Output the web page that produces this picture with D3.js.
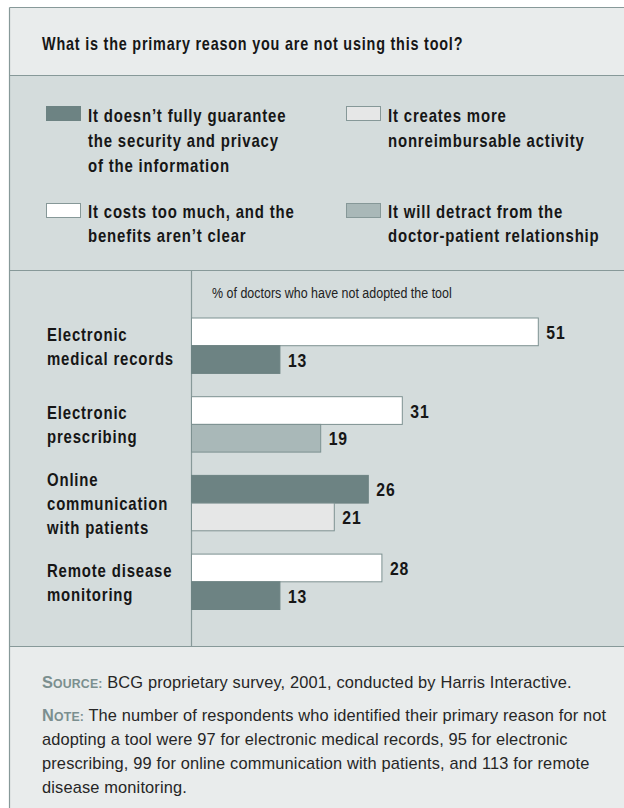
<!DOCTYPE html>
<html>
<head>
<meta charset="utf-8">
<script src="https://cdn.jsdelivr.net/npm/d3@7"></script>
<style>
  html, body { margin: 0; padding: 0; background: #ffffff; }
  svg { display: block; }
  .head { font-family: "Liberation Sans", Arial, sans-serif; font-weight: bold; fill: #161616; letter-spacing: 1px; }
  .plain { font-family: "Liberation Sans", Arial, sans-serif; fill: #222; }
  .foot { font-family: "Liberation Sans", Arial, sans-serif; fill: #262626; font-size: 16.4px; letter-spacing: 0.15px; }
  .lead { fill: #7b8f8f; font-weight: bold; }
</style>
</head>
<body>
<svg id="chart" width="624" height="808"></svg>
<script>
// Survey question
const question = "What is the primary reason you are not using this tool?";

// Reasons (legend order) and their text lines
const reasonKeys = ["security", "nonreimbursable", "cost", "detract"];
const reasonLines = [
  ["It doesn\u2019t fully guarantee", "the security and privacy", "of the information"],
  ["It creates more", "nonreimbursable activity"],
  ["It costs too much, and the", "benefits aren\u2019t clear"],
  ["It will detract from the", "doctor-patient relationship"]
];
const reasonColors = ["#6d8383", "#e6e7e7", "#ffffff", "#a9b8b8"];

// Tools surveyed
const categories = ["Electronic medical records", "Electronic prescribing", "Online communication with patients", "Remote disease monitoring"];
const categoryLines = [
  ["Electronic", "medical records"],
  ["Electronic", "prescribing"],
  ["Online", "communication", "with patients"],
  ["Remote disease", "monitoring"]
];

// Top two reasons per tool (% of doctors who have not adopted the tool)
const firstReason = ["cost", "cost", "security", "cost"];
const firstValue = [51, 31, 26, 28];
const secondReason = ["security", "detract", "nonreimbursable", "security"];
const secondValue = [13, 19, 21, 13];

const axisLabel = "% of doctors who have not adopted the tool";

const sourceText = "BCG proprietary survey, 2001, conducted by Harris Interactive.";
const noteLines = [
  "The number of respondents who identified their primary reason for not",
  "adopting a tool were 97 for electronic medical records, 95 for electronic",
  "prescribing, 99 for online communication with patients, and 113 for remote",
  "disease monitoring."
];

const svg = d3.select("#chart");
const W = 624, H = 808;
const boxLeft = 9.5, boxTop = 7.5;
const legendTop = 75.5, chartTop = 270.5, footTop = 646.5;
const lineCol = "#879999";
const lightBg = "#e9ecec", midBg = "#d4dcdc";
const squeeze = 0.83; // horizontal compression for the condensed headline face

// Condensed text block: lines stacked from a first baseline
function condText(parent, cls, x, y, lines, lineH, size, sx) {
  const t = parent.append("text").attr("class", cls)
    .attr("transform", `translate(${x},${y}) scale(${sx},1)`)
    .attr("font-size", size);
  lines.forEach((ln, j) => {
    t.append("tspan").attr("x", 0).attr("y", j * lineH).text(ln);
  });
  return t;
}

// Panels
svg.append("rect").attr("x", boxLeft).attr("y", boxTop).attr("width", W).attr("height", legendTop - boxTop).attr("fill", lightBg);
svg.append("rect").attr("x", boxLeft).attr("y", legendTop).attr("width", W).attr("height", footTop - legendTop).attr("fill", midBg);
svg.append("rect").attr("x", boxLeft).attr("y", footTop).attr("width", W).attr("height", H - footTop + 10).attr("fill", lightBg);

// Frame and dividers
const frame = svg.append("g").attr("stroke", lineCol).attr("stroke-width", 1.2).attr("fill", "none");
frame.append("line").attr("x1", boxLeft).attr("x2", W).attr("y1", boxTop).attr("y2", boxTop);
frame.append("line").attr("x1", boxLeft).attr("x2", boxLeft).attr("y1", boxTop).attr("y2", H);
[legendTop, chartTop, footTop].forEach(y => {
  frame.append("line").attr("x1", boxLeft).attr("x2", W).attr("y1", y).attr("y2", y);
});

// Title
condText(svg, "head", 42, 49.5, [question], 0, 18, 0.8);

// Legend
const legendX = [46, 346, 46, 346];
const legendY = [106, 106, 203, 203];
const legendTextY = [16, 16, 14.5, 14.5];
const legendLineH = 25;
const legend = svg.append("g");
reasonKeys.forEach((k, i) => {
  const g = legend.append("g").attr("transform", `translate(${legendX[i]},${legendY[i]})`);
  g.append("rect").attr("x", 0.5).attr("y", 0.5).attr("width", 34).attr("height", 14)
    .attr("fill", reasonColors[i]).attr("stroke", i === 0 ? reasonColors[i] : "#869898").attr("stroke-width", 1);
  condText(g, "head", 42, legendTextY[i], reasonLines[i], legendLineH, 18, squeeze);
});

// Scales
const axisX = 191.5;
const x = d3.scaleLinear().domain([0, 60]).range([axisX, axisX + 60 * 6.8]);
const y = d3.scaleBand().domain(categories).range([318, 609.5]).paddingInner(0.296).paddingOuter(0);
const colorOf = d3.scaleOrdinal().domain(reasonKeys).range(reasonColors);

// Vertical axis line
svg.append("line").attr("x1", axisX).attr("x2", axisX).attr("y1", chartTop).attr("y2", footTop)
  .attr("stroke", lineCol).attr("stroke-width", 1.2);

// Axis caption
condText(svg, "plain", 212, 297.5, [axisLabel], 0, 14.5, 0.86);

// Bar rows
const rows = categories.map((c, i) => ({
  cat: c,
  bars: [
    { reason: firstReason[i], value: firstValue[i], slot: 0 },
    { reason: secondReason[i], value: secondValue[i], slot: 1 }
  ]
}));
const half = y.bandwidth() / 2;

const group = svg.append("g").selectAll("g").data(rows).join("g")
  .attr("transform", d => `translate(0,${y(d.cat)})`);

group.selectAll("rect").data(d => d.bars).join("rect")
  .attr("x", x(0))
  .attr("y", d => d.slot * half)
  .attr("width", d => x(d.value) - x(0))
  .attr("height", half)
  .attr("fill", d => colorOf(d.reason))
  .attr("stroke", d => d.reason === "security" ? colorOf(d.reason) : "#7d9191")
  .attr("stroke-width", 1);

group.each(function (d) {
  const g = d3.select(this);
  d.bars.forEach(b => {
    condText(g, "head", x(b.value) + 8, b.slot * half + half / 2 + 7, [String(b.value)], 0, 19, squeeze);
  });
});

// Category labels
const catLineH = 24;
group.each(function (d, i) {
  const lines = categoryLines[i];
  const start = half - (lines.length - 1) * catLineH / 2 + 7;
  condText(d3.select(this), "head", 47, start, lines, catLineH, 18, squeeze);
});

// Footer: source and note
function leadText(sel, first, rest) {
  sel.append("tspan").attr("class", "lead").attr("font-size", 16.4).text(first);
  sel.append("tspan").attr("class", "lead").attr("font-size", 12.3).text(rest);
}
const src = svg.append("text").attr("class", "foot").attr("x", 42).attr("y", 688);
leadText(src, "S", "OURCE:");
src.append("tspan").text(" " + sourceText);

const noteY = 721, noteLineH = 24;
noteLines.forEach((ln, j) => {
  const t = svg.append("text").attr("class", "foot").attr("x", 42).attr("y", noteY + j * noteLineH);
  if (j === 0) leadText(t, "N", "OTE:");
  t.append("tspan").text((j === 0 ? " " : "") + ln);
});
</script>
</body>
</html>
